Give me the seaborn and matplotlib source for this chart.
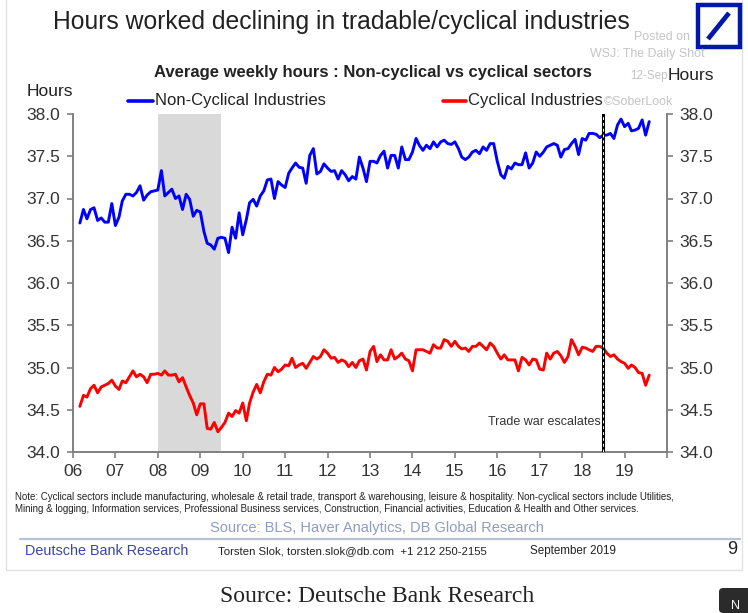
import pandas as pd
import seaborn as sns
import matplotlib
matplotlib.use('Agg')
import matplotlib.pyplot as plt
from matplotlib.patches import Rectangle, FancyBboxPatch
from matplotlib.lines import Line2D

sns.set_theme(style="white")
plt.rcParams['font.family'] = ['Liberation Sans', 'DejaVu Sans']

# monthly average weekly hours, Mar 2006 .. Aug 2019
non_cyclical = [
    36.71, 36.87, 36.76, 36.87, 36.89, 36.74, 36.77, 36.72, 36.72, 36.94, 36.68, 36.78,
    36.97, 37.05, 37.05, 37.03, 37.07, 37.15, 36.98, 37.04, 37.08, 37.09, 37.10, 37.33,
    37.03, 37.07, 37.11, 37.00, 37.03, 36.87, 37.05, 36.99, 36.79, 36.86, 36.84, 36.61,
    36.47, 36.45, 36.40, 36.53, 36.54, 36.53, 36.36, 36.66, 36.53, 36.83, 36.57, 36.75,
    36.95, 36.99, 36.91, 37.03, 37.09, 37.22, 37.23, 37.00, 37.20, 37.16,
    37.13, 37.30, 37.36, 37.42, 37.37, 37.36, 37.18, 37.51, 37.59, 37.29, 37.32, 37.41,
    37.36, 37.32, 37.33, 37.23, 37.33, 37.28, 37.21, 37.26, 37.23, 37.49, 37.36, 37.20,
    37.44, 37.44, 37.42, 37.51, 37.56, 37.36, 37.51, 37.51, 37.36, 37.61, 37.46, 37.46,
    37.55, 37.71, 37.63, 37.57, 37.63, 37.59, 37.67, 37.61, 37.67, 37.69, 37.65, 37.64,
    37.67, 37.59, 37.49, 37.46, 37.49, 37.55, 37.57,
    37.53, 37.61, 37.57, 37.65, 37.65, 37.44, 37.28, 37.24, 37.38, 37.35, 37.42, 37.40,
    37.40, 37.54, 37.36, 37.42, 37.55, 37.50, 37.55, 37.61, 37.63, 37.65, 37.63, 37.49,
    37.58, 37.59, 37.65, 37.70, 37.52, 37.71, 37.69, 37.77, 37.77, 37.76, 37.72, 37.75,
    37.75, 37.77, 37.71, 37.87, 37.94, 37.85, 37.89, 37.80, 37.81, 37.83, 37.93, 37.75,
    37.91,
]
cyclical = [
    34.54, 34.67, 34.65, 34.75, 34.79, 34.70, 34.77, 34.79, 34.81, 34.85, 34.78, 34.74,
    34.84, 34.82, 34.89, 34.96, 34.89, 34.92, 34.89, 34.82, 34.92, 34.92, 34.93, 34.91,
    34.96, 34.91, 34.91, 34.92, 34.83, 34.88, 34.77, 34.67, 34.58, 34.44, 34.57, 34.57,
    34.28, 34.27, 34.35, 34.24, 34.29, 34.35, 34.46, 34.42, 34.49, 34.46, 34.58, 34.37,
    34.58, 34.71, 34.80, 34.70, 34.83, 34.92, 34.91, 35.00, 34.95, 34.98, 35.03,
    35.02, 35.11, 35.00, 35.03, 35.05, 34.99, 35.06, 35.13, 35.10, 35.13, 35.21, 35.17,
    35.11, 35.12, 35.06, 35.09, 35.07, 35.01, 35.06, 35.00, 35.08, 35.10, 34.97, 35.19,
    35.25, 35.07, 35.15, 35.09, 35.09, 35.21, 35.10, 35.13, 35.17, 35.10, 35.08, 34.96,
    35.21, 35.21, 35.21, 35.19, 35.17, 35.27, 35.23, 35.23, 35.33, 35.31, 35.25, 35.31,
    35.25, 35.22, 35.23, 35.19, 35.25, 35.25,
    35.29, 35.25, 35.21, 35.29, 35.25, 35.17, 35.10, 35.15, 35.09, 35.09, 35.09, 34.96,
    35.12, 35.09, 35.03, 35.10, 35.09, 34.98, 34.97, 35.17, 35.10, 35.17, 35.19, 35.14,
    35.06, 35.13, 35.33, 35.25, 35.15, 35.24, 35.23, 35.21, 35.19, 35.25, 35.25, 35.23,
    35.17, 35.13, 35.15, 35.10, 35.07, 35.05, 34.99, 35.03, 35.00, 34.94, 34.93, 34.79,
    34.91,
]
start_month = '2006-03-01'
recession = ('2008-01-01', '2009-07-01')
trade_war = '2018-07-01'
years = list(range(2006, 2020))
hour_ticks = [34.0, 34.5, 35.0, 35.5, 36.0, 36.5, 37.0, 37.5, 38.0]
series_names = ['Non-Cyclical Industries', 'Cyclical Industries']
series_colors = ['#0000ff', '#ff0000']

W, H = 748, 613
fig = plt.figure(figsize=(W / 100, H / 100), dpi=100)
fig.patch.set_facecolor('white')


def fx(x):
    return x / W


def fy(y):
    return 1 - y / H


ax = fig.add_axes([fx(73), fy(452), fx(667) - fx(73), fy(114) - fy(452)])

df = pd.DataFrame({
    'date': pd.date_range(start_month, periods=len(non_cyclical), freq='MS'),
    series_names[0]: non_cyclical,
    series_names[1]: cyclical,
})
long_df = df.melt(id_vars='date', var_name='series', value_name='hours')

ax.axvspan(pd.Timestamp(recession[0]), pd.Timestamp(recession[1]), color='#d9d9d9', lw=0, zorder=0)
sns.lineplot(data=long_df, x='date', y='hours', hue='series', hue_order=series_names,
             palette=dict(zip(series_names, series_colors)), linewidth=2.1, legend=False, ax=ax)
ax.axvline(pd.Timestamp(trade_war), color='black', lw=2.2, zorder=3)
ax.axvline(pd.Timestamp(trade_war), color='white', lw=0.7, ls=(0, (3, 3)), zorder=4)
ax.text(pd.Timestamp(trade_war) - pd.Timedelta(days=25), 34.355, 'Trade war escalates',
        ha='right', va='center', fontsize=9, color='#333333')

ax.set_xlim(pd.Timestamp('2006-01-01'), pd.Timestamp('2020-01-01'))
ax.set_ylim(34, 38)
ax.set_xticks([pd.Timestamp(f'{y}-01-01') for y in years] + [pd.Timestamp('2020-01-01')])
ax.set_xticklabels([f'{y % 100:02d}' for y in years] + [''])
ax.set_yticks(hour_ticks)
ax.set_yticklabels([f'{v:.1f}' for v in hour_ticks])
ax.set_xlabel('')
ax.set_ylabel('')
ax.tick_params(axis='y', left=True, right=True, labelleft=True, labelright=True,
               direction='out', length=4, width=1.2, color='#808080',
               labelsize=12.5, labelcolor='#333333', pad=5)
ax.tick_params(axis='x', bottom=True, direction='out', length=4, width=1.2, color='#808080',
               labelsize=12.5, labelcolor='#333333', pad=5)
ax.spines['top'].set_visible(False)
for side in ['left', 'right', 'bottom']:
    ax.spines[side].set_color('#808080')
    ax.spines[side].set_linewidth(1.4)

# card frame
fig.patches.append(Rectangle((fx(6), fy(570)), fx(742) - fx(6), fy(-2) - fy(570),
                             transform=fig.transFigure, fill=False, ec='#e2e2e2', lw=1))

# titles
fig.text(fx(341), fy(22), 'Hours worked declining in tradable/cyclical industries',
         ha='center', va='center', fontsize=17.8, color='#222222')
fig.text(fx(373), fy(72), 'Average weekly hours : Non-cyclical vs cyclical sectors',
         ha='center', va='center', fontsize=12, fontweight='bold', color='#222222')
fig.text(fx(50), fy(91), 'Hours', ha='center', va='center', fontsize=12.5, color='#222222')

# watermark
wm = '#c4c4c4'
fig.text(fx(634), fy(37), 'Posted on', ha='left', va='center', fontsize=8.9, color=wm)
fig.text(fx(647), fy(54), 'WSJ: The Daily Shot', ha='center', va='center', fontsize=8.9, color=wm)
fig.text(fx(630), fy(76), '12-Sep', ha='left', va='center', fontsize=8.4, color=wm)
fig.text(fx(691), fy(76), 'Hours', ha='center', va='center', fontsize=12.5, color='#222222')

# legend
for (x0, x1), name, col in zip([(128, 153), (443, 466)], series_names, series_colors):
    fig.lines.append(Line2D([fx(x0), fx(x1)], [fy(101), fy(101)], color=col, lw=2.6,
                            transform=fig.transFigure))
    fig.text(fx(x1 + 2), fy(101), name, ha='left', va='center', fontsize=12, color='#222222')
fig.text(fx(639), fy(102), '\u00a9SoberLook', ha='center', va='center', fontsize=8.9,
         color=wm, zorder=0)

# Deutsche Bank logo
fig.patches.append(Rectangle((fx(698), fy(47)), fx(740) - fx(698), fy(5) - fy(47),
                             transform=fig.transFigure, fill=False, ec='#0018a8', lw=3.2))
fig.lines.append(Line2D([fx(708), fx(729)], [fy(39), fy(13)], color='#0018a8', lw=3.4,
                        solid_capstyle='butt', transform=fig.transFigure))

# notes and footer
fig.text(fx(15), fy(497), 'Note: Cyclical sectors include manufacturing, wholesale & retail trade, '
         'transport & warehousing, leisure & hospitality. Non-cyclical sectors include Utilities,',
         ha='left', va='center', fontsize=7, color='#222222')
fig.text(fx(15), fy(509), 'Mining & logging, Information services, Professional Business services, '
         'Construction, Financial activities, Education & Health and Other services.',
         ha='left', va='center', fontsize=7, color='#222222')
fig.text(fx(377), fy(528), 'Source: BLS, Haver Analytics, DB Global Research',
         ha='center', va='center', fontsize=10.5, color='#8e9cc4')
fig.lines.append(Line2D([fx(20), fx(740)], [fy(539), fy(539)], color='#b9c3d8', lw=1.6,
                        transform=fig.transFigure))
fig.text(fx(25), fy(551), 'Deutsche Bank Research', ha='left', va='center',
         fontsize=10.4, color='#3a46a8')
fig.text(fx(218), fy(551), 'Torsten Slok, torsten.slok@db.com  +1 212 250-2155',
         ha='left', va='center', fontsize=8.2, color='#222222')
fig.text(fx(530), fy(551), 'September 2019', ha='left', va='center', fontsize=8.4, color='#222222')
fig.text(fx(732), fy(550), '9', ha='center', va='center', fontsize=13, color='#222222')

# caption below the card
fig.text(fx(377), fy(597), 'Source: Deutsche Bank Research', ha='center', va='center',
         fontsize=17, color='#222222', family=['Liberation Serif', 'DejaVu Serif'])
fig.patches.append(FancyBboxPatch((fx(719), fy(613)), fx(40), fy(588) - fy(613),
                                  boxstyle='round,pad=0,rounding_size=0.006',
                                  transform=fig.transFigure, fc='#2b2b2b', ec='none'))
fig.text(fx(736), fy(606), 'N', ha='center', va='center', fontsize=9, color='white')

fig.savefig('out.png', dpi=100, facecolor='white')
